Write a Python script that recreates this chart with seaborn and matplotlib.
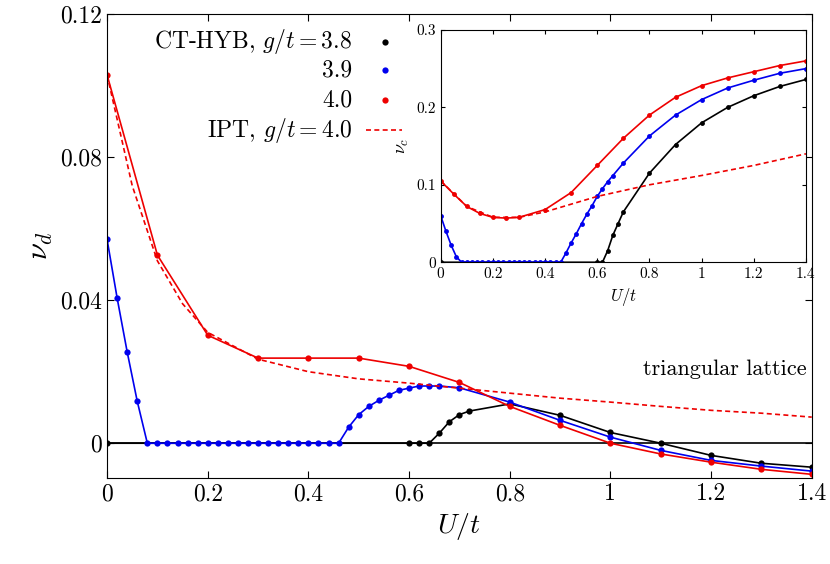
import matplotlib
matplotlib.use("Agg")
import matplotlib.pyplot as plt
import seaborn as sns
import numpy as np

plt.rcParams.update({"font.family": "serif", "font.serif": ["cmr10", "DejaVu Serif"],
                     "mathtext.fontset": "cm", "axes.unicode_minus": False,
                     "xtick.direction": "in", "ytick.direction": "in"})

# main panel data
red_x = [0, 0.1, 0.2, 0.3, 0.4, 0.5, 0.6, 0.7, 0.8, 0.9, 1.0, 1.1, 1.2, 1.3, 1.4]
red_y = [0.103, 0.0526, 0.0302, 0.0238, 0.0238, 0.0238, 0.0215, 0.017, 0.0103, 0.005, 0.0, -0.003, -0.0053, -0.0073, -0.0087]
blk_x = [0, 0.6, 0.62, 0.64, 0.66, 0.68, 0.7, 0.72, 0.8, 0.9, 1.0, 1.1, 1.2, 1.3, 1.4]
blk_y = [0, 0, 0, 0, 0.0028, 0.006, 0.008, 0.009, 0.011, 0.0078, 0.003, 0.0, -0.0034, -0.0056, -0.0067]
blu_x = [0, 0.02, 0.04, 0.06] + [round(0.08 + 0.02 * i, 2) for i in range(20)] + [0.48, 0.5, 0.52, 0.54, 0.56, 0.58, 0.6, 0.62, 0.64, 0.66, 0.7, 0.8, 0.9, 1.0, 1.1, 1.2, 1.3, 1.4]
blu_y = [0.057, 0.0406, 0.0255, 0.0117] + [0.0] * 20 + [0.0045, 0.008, 0.0103, 0.012, 0.0134, 0.0148, 0.0154, 0.016, 0.016, 0.016, 0.0155, 0.0115, 0.0064, 0.0017, -0.002, -0.0048, -0.0064, -0.0078]
ipt_x = [0, 0.05, 0.1, 0.15, 0.2, 0.3, 0.4, 0.5, 0.6, 0.7, 0.8, 0.9, 1.0, 1.1, 1.2, 1.3, 1.4]
ipt_y = [0.103, 0.072, 0.051, 0.039, 0.031, 0.0235, 0.020, 0.018, 0.0168, 0.0154, 0.014, 0.0126, 0.0115, 0.0103, 0.0092, 0.0084, 0.0073]

# inset data
ired_x = [0, 0.05, 0.1, 0.15, 0.2, 0.25, 0.3, 0.4, 0.5, 0.6, 0.7, 0.8, 0.9, 1.0, 1.1, 1.2, 1.3, 1.4]
ired_y = [0.105, 0.088, 0.072, 0.063, 0.058, 0.057, 0.058, 0.068, 0.09, 0.125, 0.16, 0.19, 0.213, 0.228, 0.238, 0.246, 0.254, 0.26]
iblu_x = blu_x
iblu_y = [0.06, 0.04, 0.022, 0.007] + [0.0] * 20 + [0.012, 0.025, 0.037, 0.05, 0.062, 0.073, 0.085, 0.095, 0.104, 0.112, 0.128, 0.163, 0.19, 0.21, 0.225, 0.235, 0.244, 0.25]
iblk_x = [0, 0.6, 0.62, 0.64, 0.66, 0.68, 0.7, 0.8, 0.9, 1.0, 1.1, 1.2, 1.3, 1.4]
iblk_y = [0, 0, 0, 0.015, 0.035, 0.05, 0.065, 0.115, 0.152, 0.18, 0.2, 0.215, 0.227, 0.236]
iipt_x = [0, 0.1, 0.2, 0.3, 0.4, 0.5, 0.6, 0.8, 1.0, 1.2, 1.4]
iipt_y = [0.105, 0.072, 0.058, 0.058, 0.065, 0.075, 0.085, 0.1, 0.112, 0.125, 0.14]

legend_labels = ["CT-HYB, $g/t=3.8$", "3.9", "4.0", "IPT, $g/t=4.0$"]
BLUE, RED = "#0000ee", "#ee0000"
DASH = (0, (3, 2))

fig = plt.figure(figsize=(8.3, 5.64), dpi=100)
ax = fig.add_axes([0.129, 0.152, 0.849, 0.823])
ax.axhline(0, color="black", lw=1.2)
kw = dict(marker="o", markersize=4.5, markeredgewidth=0, lw=1.2)
sns.lineplot(x=blk_x, y=blk_y, ax=ax, color="black", **kw)
sns.lineplot(x=blu_x, y=blu_y, ax=ax, color=BLUE, **kw)
sns.lineplot(x=red_x, y=red_y, ax=ax, color=RED, **kw)
sns.lineplot(x=ipt_x, y=ipt_y, ax=ax, color=RED, lw=1.2, linestyle=DASH)
ax.set_xlim(0, 1.4); ax.set_ylim(-0.0098, 0.12)
ax.set_xticks([0, 0.2, 0.4, 0.6, 0.8, 1.0, 1.2, 1.4])
ax.set_xticklabels(["0", "0.2", "0.4", "0.6", "0.8", "1", "1.2", "1.4"], fontsize=17)
ax.set_yticks([0, 0.04, 0.08, 0.12])
ax.set_yticklabels(["0", "0.04", "0.08", "0.12"], fontsize=17)
ax.set_xlabel("$U/t$", fontsize=20)
ax.set_ylabel(r"$\nu_d$", fontsize=22)
ax.tick_params(top=True, right=True, length=5)
ax.text(1.39, 0.019, "triangular lattice", fontsize=16, ha="right")

# legend (right-aligned labels, keys on the right)
rows = [0.94, 0.879, 0.815, 0.75]
cols = ["black", BLUE, RED]
for i, lab in enumerate(legend_labels):
    ax.text(0.348, rows[i], lab, transform=ax.transAxes, ha="right", va="center", fontsize=17)
for i, c in enumerate(cols):
    ax.plot([0.394], [rows[i]], "o", color=c, ms=4.5, mew=0, transform=ax.transAxes)
ax.plot([0.368, 0.418], [rows[3], rows[3]], color=RED, lw=1.2, ls=DASH, transform=ax.transAxes)

ins = fig.add_axes([0.531, 0.535, 0.44, 0.412])
kw2 = dict(marker="o", markersize=3.5, markeredgewidth=0, lw=1.2)
sns.lineplot(x=iblk_x, y=iblk_y, ax=ins, color="black", **kw2)
sns.lineplot(x=iblu_x, y=iblu_y, ax=ins, color=BLUE, **kw2)
sns.lineplot(x=ired_x, y=ired_y, ax=ins, color=RED, **kw2)
sns.lineplot(x=iipt_x, y=iipt_y, ax=ins, color=RED, lw=1.2, linestyle=DASH)
ins.set_xlim(0, 1.4); ins.set_ylim(0, 0.3)
ins.set_xticks([0, 0.2, 0.4, 0.6, 0.8, 1.0, 1.2, 1.4])
ins.set_xticklabels(["0", "0.2", "0.4", "0.6", "0.8", "1", "1.2", "1.4"], fontsize=11)
ins.set_yticks([0, 0.1, 0.2, 0.3])
ins.set_yticklabels(["0", "0.1", "0.2", "0.3"], fontsize=11)
ins.set_xlabel("$U/t$", fontsize=12)
ins.set_ylabel(r"$\nu_c$", fontsize=13)
ins.tick_params(top=True, right=True, length=3)
fig.savefig("out.png", dpi=100)
